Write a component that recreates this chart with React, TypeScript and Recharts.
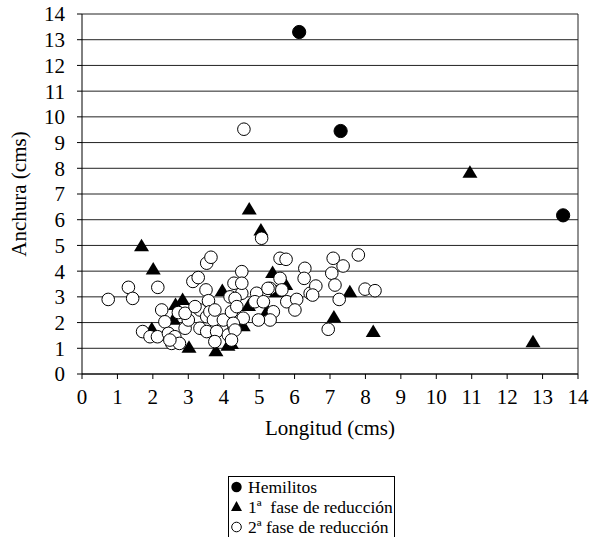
import React from 'react';
import { ScatterChart, Scatter, XAxis, YAxis, CartesianGrid, Legend, ReferenceLine } from 'recharts';

const FONT = 'Liberation Serif, DejaVu Serif, serif';
const FS = 21;
const LEGEND_FS = 17.5;

const xTicks = [0, 1, 2, 3, 4, 5, 6, 7, 8, 9, 10, 11, 12, 13, 14];
const yTicks = [0, 1, 2, 3, 4, 5, 6, 7, 8, 9, 10, 11, 12, 13, 14];

const seriesNames = ['Hemilitos', '1ª  fase de reducción', '2ª fase de reducción'];

const hemilitos: [number, number][] = [
  [6.13, 13.3], [7.3, 9.45], [13.58, 6.17],
];

const fase1: [number, number][] = [
  [10.95, 7.85], [4.72, 6.42], [5.05, 5.6], [1.68, 4.99], [2.01, 4.08],
  [12.73, 1.25], [8.22, 1.65], [7.11, 2.22], [7.56, 3.2], [5.38, 3.95],
  [5.75, 3.48], [5.49, 3.2], [4.7, 2.66], [5.23, 2.47], [4.55, 1.88],
  [3.96, 3.25], [2.64, 2.7], [2.84, 2.9], [1.97, 1.76], [2.58, 2.13],
  [3.02, 1.04], [3.78, 0.9], [4.12, 1.12], [4.22, 1.19],
];

const fase2: [number, number][] = [
  [0.74, 2.9], [1.31, 3.37], [1.43, 2.94], [2.14, 3.37], [2.25, 2.49],
  [1.71, 1.65], [1.92, 1.45], [2.13, 1.45], [2.34, 2.03], [2.44, 1.58],
  [2.53, 1.19], [2.62, 1.45], [2.75, 1.19], [2.72, 2.39], [2.91, 1.78],
  [3.0, 2.1], [2.91, 2.36], [3.13, 3.6], [3.28, 3.75], [3.52, 4.31],
  [3.64, 4.54], [3.5, 3.27], [3.57, 2.85], [3.33, 2.49], [3.33, 1.78],
  [3.52, 2.23], [3.19, 2.62], [3.61, 2.42], [3.71, 2.1], [3.52, 1.65],
  [3.75, 2.49], [3.8, 1.65], [3.75, 1.26], [3.99, 2.1], [4.18, 3.0],
  [4.22, 2.42], [4.13, 1.52], [4.29, 1.84], [4.29, 3.53], [4.51, 3.98],
  [4.51, 3.14], [4.55, 2.17], [2.48, 1.32], [4.57, 9.52],
  [5.07, 5.28], [5.59, 4.5], [5.76, 4.46], [6.29, 4.11], [6.27, 3.72],
  [4.51, 3.53], [5.59, 3.72], [5.31, 3.33], [5.64, 3.27], [4.93, 3.14],
  [4.88, 2.81], [5.12, 2.81], [5.78, 2.81], [6.06, 2.9], [6.01, 2.49],
  [5.4, 2.42], [5.31, 2.1], [4.98, 2.1], [4.27, 1.97], [4.32, 1.71],
  [4.22, 1.32], [4.32, 2.94], [4.37, 2.62], [6.44, 3.14], [5.25, 3.33],
  [7.8, 4.63], [7.09, 4.5], [7.37, 4.2], [7.05, 3.92], [6.6, 3.42],
  [7.14, 3.46], [6.51, 3.07], [7.26, 2.9], [7.99, 3.3], [8.27, 3.24],
  [6.95, 1.74],
];

const toPts = (arr: [number, number][]) => arr.map(([x, y]) => ({ x, y }));

const OpenCircle = (p: any) => (
  <circle cx={p.cx} cy={p.cy} r={6.3} fill="#fff" stroke="#000" strokeWidth={1} />
);
const FilledCircle = (p: any) => (
  <circle cx={p.cx} cy={p.cy} r={6.6} fill="#000" stroke="#000" strokeWidth={1} />
);
const Triangle = (p: any) => (
  <path
    d={`M${p.cx},${p.cy - 7} L${p.cx + 7.5},${p.cy + 5.5} L${p.cx - 7.5},${p.cy + 5.5} Z`}
    fill="#000"
  />
);

const LegendBox = () => (
  <div
    style={{
      borderTop: '1px solid #000',
      borderLeft: '1px solid #000',
      borderRight: '1px solid #000',
      width: 167,
      height: 61,
      boxSizing: 'border-box',
      fontFamily: FONT,
      fontSize: LEGEND_FS,
      color: '#000',
      background: '#fff',
      overflow: 'hidden',
      paddingTop: 0,
    }}
  >
    {seriesNames.map((name, i) => (
      <div key={name} style={{ height: 20, display: 'flex', alignItems: 'center', whiteSpace: 'pre' }}>
        <svg width={19} height={20} style={{ flex: 'none' }}>
          {i === 0 && <circle cx={7.5} cy={10} r={5.2} fill="#000" />}
          {i === 1 && <path d="M7.5,4 L13,14 L2,14 Z" fill="#000" />}
          {i === 2 && <circle cx={7.5} cy={10} r={4.8} fill="#fff" stroke="#000" strokeWidth={1} />}
        </svg>
        <span style={{ lineHeight: '20px' }}>{name}</span>
      </div>
    ))}
  </div>
);

export default function App() {
  return (
    <div style={{ position: 'absolute', left: 0, top: 0, width: 591, height: 537, background: '#fff' }}>
      <ScatterChart width={591} height={537} margin={{ top: 14, right: 13, left: 0, bottom: 0 }}>
        <CartesianGrid vertical={false} stroke="#222" strokeWidth={1} />
        <XAxis
          type="number"
          dataKey="x"
          domain={[0, 14]}
          ticks={xTicks}
          interval={0}
          height={163}
          tickSize={5}
          tickMargin={10}
          stroke="#000"
          tick={{ fill: '#000', fontSize: FS, fontFamily: FONT }}
          label={{ value: 'Longitud (cms)', position: 'insideTop', offset: 46, fill: '#000', fontSize: FS, fontFamily: FONT }}
        />
        <YAxis
          type="number"
          dataKey="y"
          domain={[0, 14]}
          ticks={yTicks}
          interval={0}
          width={82}
          tickSize={5}
          tickMargin={12}
          stroke="#000"
          tick={{ fill: '#000', fontSize: FS, fontFamily: FONT }}
          label={{ value: 'Anchura (cms)', angle: -90, position: 'insideLeft', offset: 19, fill: '#000', fontSize: FS, fontFamily: FONT, style: { textAnchor: 'middle' } }}
        />
        <ReferenceLine x={14} stroke="#222" strokeWidth={1} />
        <Legend
          layout="vertical"
          align="center"
          verticalAlign="middle"
          wrapperStyle={{ left: 228, top: 476, width: 167 }}
          content={() => <LegendBox />}
        />
        <Scatter name={seriesNames[1]} data={toPts(fase1)} shape={Triangle} isAnimationActive={false} />
        <Scatter name={seriesNames[2]} data={toPts(fase2)} shape={OpenCircle} isAnimationActive={false} />
        <Scatter name={seriesNames[0]} data={toPts(hemilitos)} shape={FilledCircle} isAnimationActive={false} />
      </ScatterChart>
    </div>
  );
}
